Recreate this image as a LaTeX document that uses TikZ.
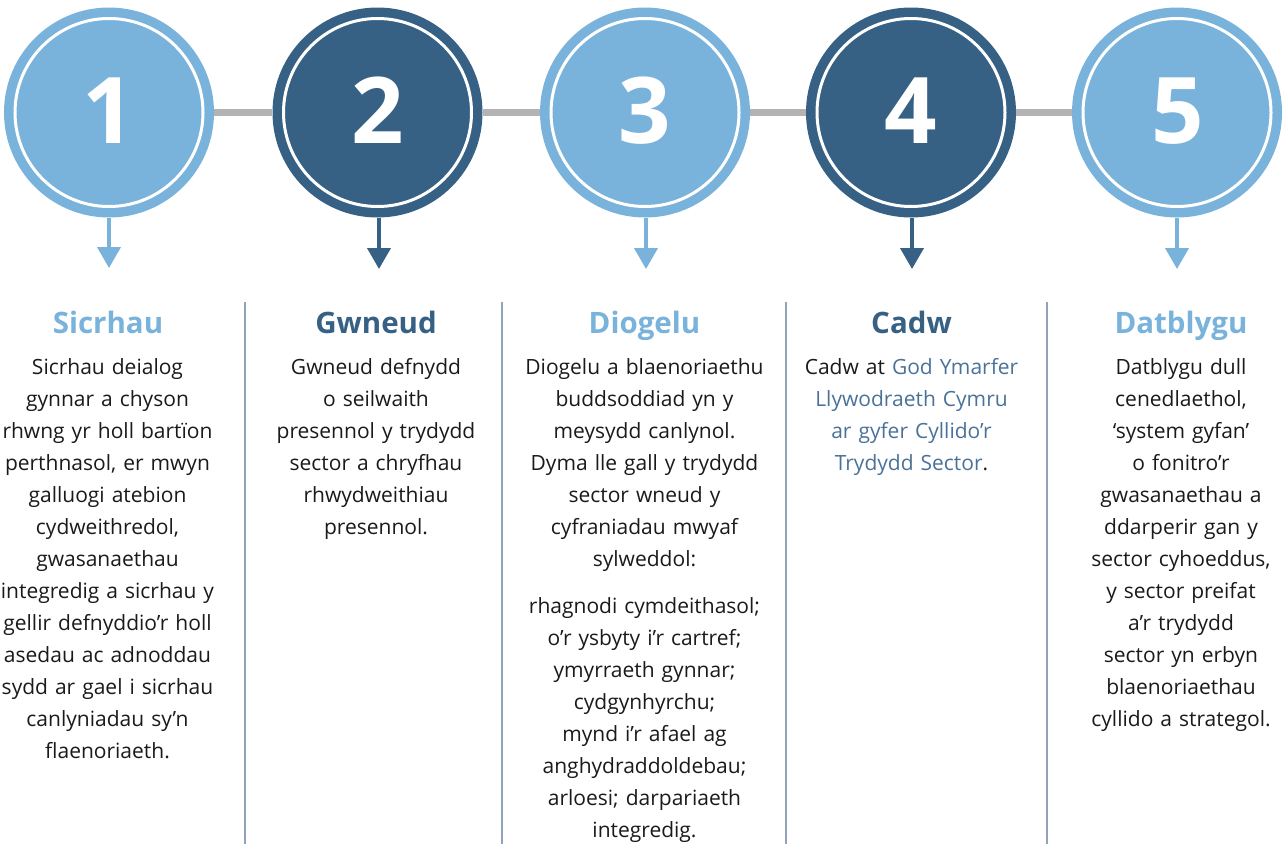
\documentclass[tikz,border=0pt]{standalone}
\usepackage{fontspec}
\setmainfont{Open Sans}
\usetikzlibrary{arrows.meta}
\definecolor{lightb}{HTML}{79B3DB}
\definecolor{darkb}{HTML}{366184}
\definecolor{linkc}{HTML}{4A7298}
\definecolor{connc}{HTML}{B3B3B3}
\definecolor{divc}{HTML}{8FA4BA}
\definecolor{bodyc}{HTML}{1A1A1A}
\tikzset{
  stepcircle/.style={circle, fill=#1, minimum size=210pt, inner sep=0pt},
  ringline/.style={draw=white, line width=3pt},
  numtext/.style={text=white, font={\fontsize{92}{92}\selectfont\bfseries}, anchor=base, inner sep=0pt},
  downarrow/.style={draw=#1, line width=4pt, -{Triangle[width=23pt,length=21pt]}},
  headtext/.style={text=#1, font={\fontsize{29.5}{32}\selectfont\bfseries}, anchor=base, inner sep=0pt},
  bodytext/.style={text=bodyc, font={\fontsize{21}{32}\selectfont}, anchor=base, inner sep=0pt, text width=270pt, align=center},
  divline/.style={draw=divc, line width=1.3pt},
  connline/.style={draw=connc, line width=7.5pt}
}
\begin{document}
\begin{tikzpicture}[x=1pt,y=-1pt]
\useasboundingbox (0,0) rectangle (1288,844);
% circles
\node[stepcircle=lightb] (c1) at (109,112.5) {};
\node[stepcircle=darkb] (c2) at (377.5,112.5) {};
\node[stepcircle=lightb] (c3) at (645,112.5) {};
\node[stepcircle=darkb] (c4) at (911,112.5) {};
\node[stepcircle=lightb] (c5) at (1177,112.5) {};
% connectors
\draw[connline] (c1.east) -- (c2.west);
\draw[connline] (c2.east) -- (c3.west);
\draw[connline] (c3.east) -- (c4.west);
\draw[connline] (c4.east) -- (c5.west);
% rings
\draw[ringline] (c1.center) circle (94);
\draw[ringline] (c2.center) circle (94);
\draw[ringline] (c3.center) circle (94);
\draw[ringline] (c4.center) circle (94);
\draw[ringline] (c5.center) circle (94);
% numbers
\node[numtext] (n1) at (109,143) {1};
\node[numtext] (n2) at (378,143) {2};
\node[numtext] (n3) at (645,143) {3};
\node[numtext] (n4) at (911,143) {4};
\node[numtext] (n5) at (1178,143) {5};
% arrows
\coordinate (a1) at (109,268);
\coordinate (a2) at (379,269);
\coordinate (a3) at (646,269);
\coordinate (a4) at (912,269);
\coordinate (a5) at (1177,269);
\draw[downarrow=lightb] (c1.south) -- (a1);
\draw[downarrow=darkb] (379,217.5) -- (a2);
\draw[downarrow=lightb] (646,217.5) -- (a3);
\draw[downarrow=darkb] (912,217.5) -- (a4);
\draw[downarrow=lightb] (c5.south) -- (a5);
% dividers
\coordinate (d1t) at (245,302); \coordinate (d1b) at (245,844);
\coordinate (d2t) at (502,302); \coordinate (d2b) at (502,844);
\coordinate (d3t) at (786,302); \coordinate (d3b) at (786,844);
\coordinate (d4t) at (1047,302); \coordinate (d4b) at (1047,844);
\draw[divline] (d1t) -- (d1b);
\draw[divline] (d2t) -- (d2b);
\draw[divline] (d3t) -- (d3b);
\draw[divline] (d4t) -- (d4b);
% headings
\node[headtext=lightb] (h1) at (108,333) {Sicrhau};
\node[headtext=darkb] (h2) at (376,333) {Gwneud};
\node[headtext=lightb] (h3) at (644.5,333) {Diogelu};
\node[headtext=darkb] (h4) at (911.5,333) {Cadw};
\node[headtext=lightb] (h5) at (1181,333) {Datblygu};
% bodies
\node[bodytext] (b1) at (107.5,374) {Sicrhau deialog\\gynnar a chyson\\rhwng yr holl bartïon\\perthnasol, er mwyn\\galluogi atebion\\cydweithredol,\\gwasanaethau\\integredig a sicrhau y\\gellir defnyddio’r holl\\asedau ac adnoddau\\sydd ar gael i sicrhau\\canlyniadau sy’n\\flaenoriaeth.};
\node[bodytext] (b2) at (376,374) {Gwneud defnydd\\o seilwaith\\presennol y trydydd\\sector a chryfhau\\rhwydweithiau\\presennol.};
\node[bodytext] (b3) at (644.5,374) {Diogelu a blaenoriaethu\\buddsoddiad yn y\\meysydd canlynol.\\Dyma lle gall y trydydd\\sector wneud y\\cyfraniadau mwyaf\\sylweddol:\\[15pt]rhagnodi cymdeithasol;\\o’r ysbyty i’r cartref;\\ymyrraeth gynnar;\\cydgynhyrchu;\\mynd i’r afael ag\\anghydraddoldebau;\\arloesi; darpariaeth\\integredig.};
\node[bodytext] (b4) at (911.5,374) {Cadw at \textcolor{linkc}{God Ymarfer}\\\textcolor{linkc}{Llywodraeth Cymru}\\\textcolor{linkc}{ar gyfer Cyllido’r}\\\textcolor{linkc}{Trydydd Sector}.};
\node[bodytext] (b5) at (1181,374) {Datblygu dull\\cenedlaethol,\\‘system gyfan’\\o fonitro’r\\gwasanaethau a\\ddarperir gan y\\sector cyhoeddus,\\y sector preifat\\a’r trydydd\\sector yn erbyn\\blaenoriaethau\\cyllido a strategol.};
\end{tikzpicture}
\end{document}
